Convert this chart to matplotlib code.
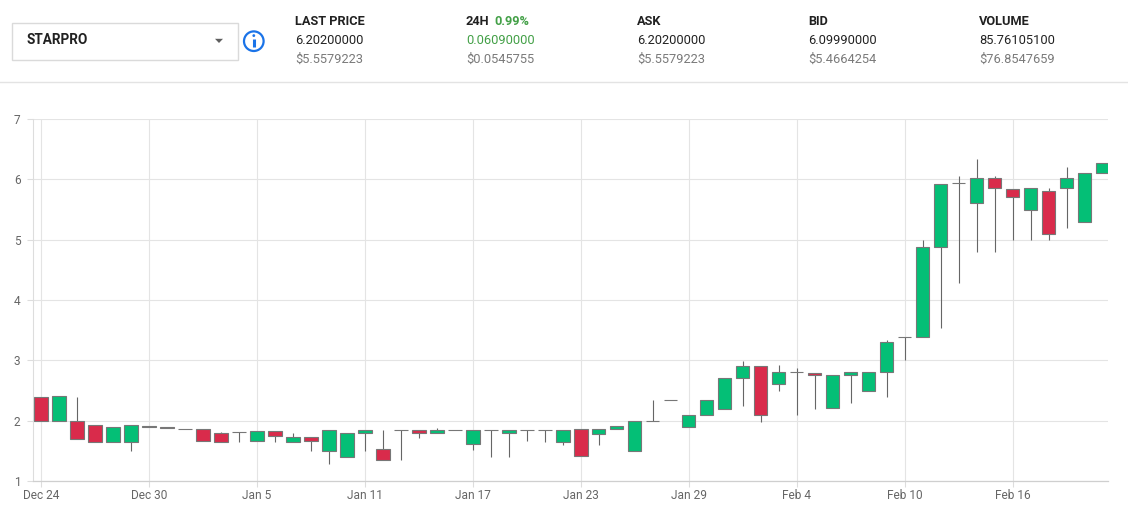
import matplotlib.pyplot as plt
from matplotlib.patches import Rectangle, Circle, Polygon
import numpy as np
import pandas as pd

plt.rcParams['font.family'] = ['Roboto', 'DejaVu Sans']

# daily candles, Dec 24 .. Feb 21
dates = pd.date_range('2018-12-24', '2019-02-21', freq='D')
opens = [2.40, 2.00, 2.00, 1.93, 1.64, 1.65, 1.90, 1.90, 1.87, 1.87,
         1.79, 1.81, 1.66, 1.83, 1.65, 1.73, 1.49, 1.40, 1.79, 1.53,
         1.85, 1.85, 1.79, 1.84, 1.61, 1.85, 1.79, 1.84, 1.84, 1.64,
         1.86, 1.78, 1.86, 1.50, 2.00, 2.34, 1.89, 2.10, 2.19, 2.70,
         2.90, 2.60, 2.80, 2.79, 2.21, 2.75, 2.49, 2.80, 3.39, 3.39,
         4.88, 5.94, 5.60, 6.03, 5.84, 5.50, 5.80, 5.86, 5.30, 6.10]
closes = [2.00, 2.41, 1.70, 1.64, 1.89, 1.93, 1.91, 1.88, 1.87, 1.66,
          1.64, 1.81, 1.83, 1.75, 1.73, 1.67, 1.84, 1.79, 1.84, 1.34,
          1.85, 1.79, 1.85, 1.84, 1.85, 1.85, 1.84, 1.84, 1.84, 1.84,
          1.41, 1.87, 1.91, 2.00, 2.00, 2.34, 2.10, 2.34, 2.70, 2.90,
          2.10, 2.80, 2.80, 2.75, 2.75, 2.80, 2.80, 3.30, 3.39, 4.88,
          5.93, 5.94, 6.03, 5.86, 5.70, 5.86, 5.09, 6.03, 6.10, 6.27]
highs = [2.40, 2.41, 2.40, 1.93, 1.89, 1.93, 1.91, 1.90, 1.87, 1.87,
         1.81, 1.81, 1.83, 1.83, 1.79, 1.73, 1.84, 1.79, 1.84, 1.85,
         1.85, 1.85, 1.88, 1.84, 1.85, 1.85, 1.84, 1.84, 1.84, 1.84,
         1.86, 1.87, 1.91, 2.00, 2.34, 2.34, 2.10, 2.34, 2.70, 2.99,
         2.90, 2.92, 2.88, 2.79, 2.75, 2.80, 2.80, 3.33, 3.39, 4.99,
         5.93, 6.06, 6.34, 6.06, 5.84, 5.86, 5.86, 6.20, 6.10, 6.27]
lows = [2.00, 2.00, 1.70, 1.64, 1.64, 1.50, 1.90, 1.88, 1.87, 1.66,
        1.64, 1.65, 1.66, 1.65, 1.64, 1.49, 1.29, 1.40, 1.50, 1.34,
        1.35, 1.71, 1.79, 1.84, 1.51, 1.39, 1.39, 1.67, 1.64, 1.59,
        1.41, 1.59, 1.86, 1.50, 2.00, 2.34, 1.89, 2.10, 2.19, 2.24,
        1.97, 2.50, 2.09, 2.19, 2.21, 2.30, 2.49, 2.40, 3.00, 3.39,
        3.54, 4.29, 4.80, 4.80, 4.99, 4.99, 4.99, 5.19, 5.30, 6.10]
tick_labels = ['Dec 24', 'Dec 30', 'Jan 5', 'Jan 11', 'Jan 17',
               'Jan 23', 'Jan 29', 'Feb 4', 'Feb 10', 'Feb 16']

header_titles = ['LAST PRICE', '24H', 'ASK', 'BID', 'VOLUME']
header_values = ['6.20200000', '0.06090000', '6.20200000', '6.09990000', '85.76105100']
header_usd = ['$5.5579223', '$0.0545755', '$5.5579223', '$5.4664254', '$76.8547659']

UP = '#04bf76'
DOWN = '#d92b4b'
W, H = 1128, 513

fig = plt.figure(figsize=(W / 100, H / 100), dpi=100)

# header drawn in pixel coords on an overlay axes
hdr = fig.add_axes([0, 0, 1, 1])
hdr.set_xlim(0, W)
hdr.set_ylim(H, 0)
hdr.axis('off')
hdr.patch.set_visible(False)

hdr.add_patch(Rectangle((11.5, 22.5), 226, 37, fill=False, ec='#dadada', lw=1))
hdr.text(26.5, 40.5, 'STARPRO', fontsize=9.8, fontweight='bold', color='#212121', va='center')
hdr.add_patch(Polygon([(215, 38.8), (223, 38.8), (219, 43)], closed=True, fc='#5f5f5f', ec='none'))
hdr.add_patch(Circle((253.8, 41.2), 9.8, fill=False, ec='#1a73e8', lw=1.6))
hdr.plot([253.8, 253.8], [39, 46.5], color='#1a73e8', lw=2.2, solid_capstyle='butt')
hdr.add_patch(Circle((253.8, 35.6), 1.4, fc='#1a73e8', ec='none'))
hdr.plot([0, W], [81.5, 81.5], color='#e3e3e3', lw=1)

col_x = [295, 466, 637, 808, 979]
for i, x in enumerate(col_x):
    hdr.text(x, 21.5, header_titles[i], fontsize=9.2, fontweight='bold', color='#212121', va='center')
    vcol = '#43a047' if i == 1 else '#222222'
    hdr.text(x, 40.5, header_values[i], fontsize=9.3, color=vcol, va='center')
    hdr.text(x, 59, header_usd[i], fontsize=9.3, color='#7a7a7a', va='center')
hdr.text(494, 21.5, '0.99%', fontsize=9.2, fontweight='bold', color='#43a047', va='center')

# candlestick chart
ax = fig.add_axes([33 / W, 32 / H, 1075 / W, 362 / H])
x = np.arange(len(dates))
o = np.array(opens)
c = np.array(closes)
colors = [UP if cc >= oo else DOWN for oo, cc in zip(o, c)]

ax.vlines(x, lows, highs, color='#666666', lw=0.8, zorder=2)
ax.bar(x, np.abs(c - o), bottom=np.minimum(o, c), width=0.74,
       color=colors, edgecolor='#777777', linewidth=0.8, zorder=3)

ax.set_xlim(-0.45, 59.3)
ax.set_ylim(1, 7)
ax.set_yticks(range(1, 8))
ax.set_xticks(x[::6])
ax.set_xticklabels(tick_labels)
ax.grid(True, color='#e4e4e4', lw=0.8, zorder=0)
ax.set_axisbelow(True)
for s in ['top', 'right']:
    ax.spines[s].set_visible(False)
ax.spines['left'].set_color('#dddddd')
ax.spines['bottom'].set_color('#cfcfcf')
ax.spines['left'].set_linewidth(0.8)
ax.spines['bottom'].set_linewidth(0.9)
ax.tick_params(axis='both', colors='#dddddd', labelcolor='#666666', labelsize=8.6, length=4, width=0.8)
ax.tick_params(axis='x', pad=2)
ax.tick_params(axis='y', pad=5)

fig.savefig('out.png', dpi=100)
